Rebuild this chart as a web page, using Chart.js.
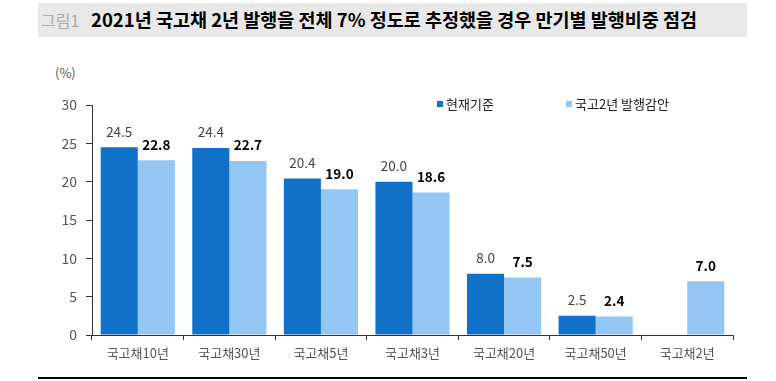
<!DOCTYPE html>
<html>
<head>
<meta charset="utf-8">
<script src="https://cdn.jsdelivr.net/npm/chart.js@4"></script>
<style>
  body { margin: 0; background: #fff; }
  #wrap { position: relative; width: 776px; height: 381px; font-family: "Noto Sans CJK KR", sans-serif; }
  #title { position: absolute; left: 38px; top: 3px; width: 709px; height: 34px; background: #e8e8e8; }
  #title span { position: absolute; white-space: nowrap; }
  #fig { left: 3px; top: 5px; color: #aaa; font-size: 16px; }
  #head { left: 53px; top: 3px; color: #000; font-size: 18.5px; font-weight: bold; }
  #rule { position: absolute; left: 38px; top: 377px; width: 709px; height: 1.5px; background: #000; }
  #unit { position: absolute; left: 55px; top: 63px; font-size: 13px; color: #555; }
  canvas { position: absolute; left: 0; top: 0; }
</style>
</head>
<body>
<div id="wrap">
  <div id="title"><span id="fig">그림1</span><span id="head">2021년 국고채 2년 발행을 전체 7% 정도로 추정했을 경우 만기별 발행비중 점검</span></div>
  <div id="unit">(%)</div>
  <canvas id="myChart" width="776" height="381"></canvas>
  <div id="rule"></div>
</div>
<script>
  // 만기별 발행비중 (%)
  const categories = ['국고채10년', '국고채30년', '국고채5년', '국고채3년', '국고채20년', '국고채50년', '국고채2년'];
  const current = [24.5, 24.4, 20.4, 20.0, 8.0, 2.5, null];   // 현재기준
  const adjusted = [22.8, 22.7, 19.0, 18.6, 7.5, 2.4, 7.0];   // 국고2년 발행감안
  const yTicks = [0, 5, 10, 15, 20, 25, 30];

  const darkBlue = '#1170c8';
  const lightBlue = '#94c6f3';
  const font = '"Noto Sans CJK KR", sans-serif';

  // 막대 위 값 표시 + 범례
  const labelPlugin = {
    id: 'labels',
    afterDatasetsDraw(chart) {
      const ctx = chart.ctx;
      ctx.save();
      ctx.textAlign = 'center';
      ctx.textBaseline = 'bottom';
      chart.data.datasets.forEach((ds, i) => {
        const meta = chart.getDatasetMeta(i);
        meta.data.forEach((bar, j) => {
          const v = ds.data[j];
          if (v === null) return;
          if (i === 0) {
            ctx.font = '13.5px ' + font;
            ctx.fillStyle = '#444';
          } else {
            ctx.font = 'bold 13.5px ' + font;
            ctx.fillStyle = '#000';
          }
          ctx.fillText(v.toFixed(1), bar.x, bar.y - 9);
        });
      });

      // 범례
      const items = [
        { text: '현재기준', color: darkBlue, x: 437 },
        { text: '국고2년 발행감안', color: lightBlue, x: 566 }
      ];
      ctx.textAlign = 'left';
      ctx.textBaseline = 'middle';
      ctx.font = '13px ' + font;
      items.forEach(it => {
        ctx.fillStyle = it.color;
        ctx.fillRect(it.x, 101, 6, 6);
        ctx.fillStyle = '#222';
        ctx.fillText(it.text, it.x + 9, 104);
      });
      ctx.restore();
    }
  };

  const config = {
    type: 'bar',
    data: {
      labels: categories,
      datasets: [
        { label: '현재기준', data: current, backgroundColor: darkBlue, categoryPercentage: 0.81, barPercentage: 1 },
        { label: '국고2년 발행감안', data: adjusted, backgroundColor: lightBlue, categoryPercentage: 0.81, barPercentage: 1 }
      ]
    },
    options: {
      responsive: false,
      animation: false,
      layout: { padding: { top: 105, right: 43, bottom: 0, left: 0 } },
      plugins: { legend: { display: false }, tooltip: { enabled: false } },
      scales: {
        x: {
          grid: { display: true, drawOnChartArea: false, drawTicks: true, tickLength: 5, color: '#333', offset: true },
          border: { color: '#333', width: 1 },
          ticks: { font: { size: 13, family: font }, color: '#555', padding: 5, maxRotation: 0 },
          afterFit(scale) { scale.height = 46; }
        },
        y: {
          min: 0, max: 30,
          afterBuildTicks(scale) { scale.ticks = yTicks.map(v => ({ value: v })); },
          grid: { display: true, drawOnChartArea: false, drawTicks: true, tickLength: 6, color: '#333' },
          border: { color: '#333', width: 1 },
          ticks: { font: { size: 14, family: font }, color: '#555', padding: 9 },
          afterFit(scale) { scale.width = 92; }
        }
      }
    },
    plugins: [labelPlugin]
  };

  const myChart = new Chart(document.getElementById('myChart'), config);
</script>
</body>
</html>
